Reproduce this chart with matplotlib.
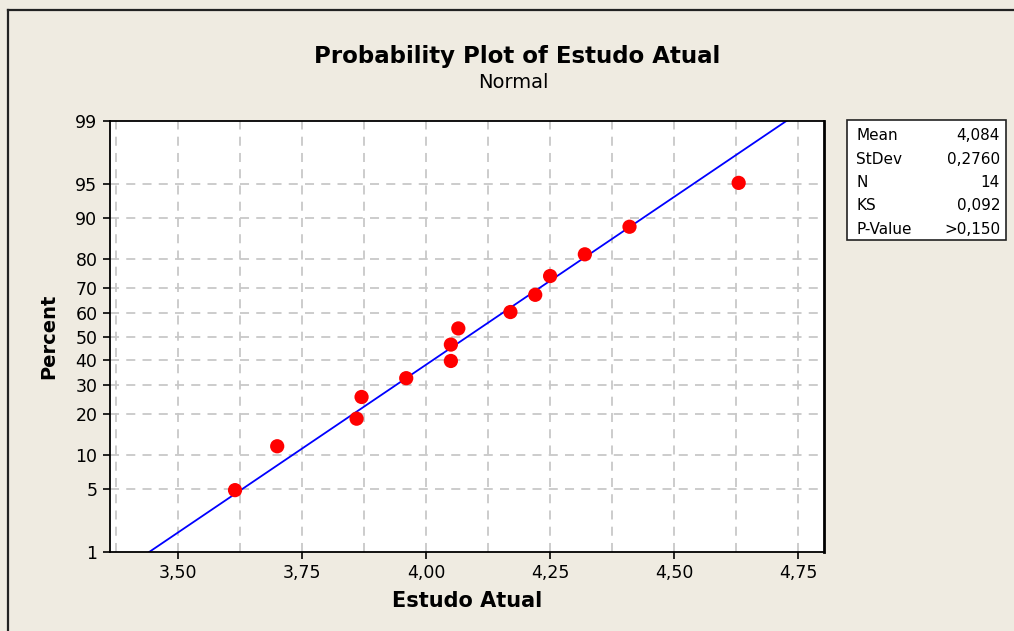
import numpy as np
import matplotlib
matplotlib.use("Agg")
import matplotlib.pyplot as plt
from matplotlib.lines import Line2D
from matplotlib.patches import Rectangle
from statistics import NormalDist

# sample values (sorted)
values = [3.615, 3.70, 3.86, 3.87, 3.96, 4.05, 4.05, 4.065, 4.17, 4.22, 4.25, 4.32, 4.41, 4.63]
mean = 4.084
stdev = 0.2760

y_ticks = [1, 5, 10, 20, 30, 40, 50, 60, 70, 80, 90, 95, 99]
x_ticks = [3.50, 3.75, 4.00, 4.25, 4.50, 4.75]
x_grid = [3.375, 3.5, 3.625, 3.75, 3.875, 4.0, 4.125, 4.25, 4.375, 4.5, 4.625, 4.75]

stat_names = ["Mean", "StDev", "N", "KS", "P-Value"]
stat_values = ["4,084", "0,2760", "14", "0,092", ">0,150"]

nd = NormalDist()
_ppf = np.vectorize(lambda p: nd.inv_cdf(p), otypes=[float])
_cdf = np.vectorize(lambda z: nd.cdf(z), otypes=[float])


def forward(p):
    p = np.clip(np.asarray(p, dtype=float), 1e-6, 100 - 1e-6)
    return _ppf(p / 100.0)


def inverse(z):
    return _cdf(np.asarray(z, dtype=float)) * 100.0


n = len(values)
percents = [(i + 1 - 0.3) / (n + 0.4) * 100 for i in range(n)]

bg = "#EFEBE1"
plt.rcParams['font.family'] = ['DejaVu Sans']

fig = plt.figure(figsize=(10.14, 6.31), dpi=100, facecolor=bg)
W, H = 1014, 631
ax = fig.add_axes([110 / W, 1 - 552 / H, 714 / W, 431 / H])
ax.set_facecolor("white")
ax.set_yscale("function", functions=(forward, inverse))
ax.set_ylim(1, 99)
ax.set_xlim(3.363, 4.802)

# grid
for gx in x_grid:
    ax.axvline(gx, color="#C8C8C8", lw=1.3, ls=(0, (5, 4)), zorder=0)
for gy in y_ticks[1:-1]:
    ax.axhline(gy, color="#C8C8C8", lw=1.3, ls=(0, (5, 4)), zorder=0)

# fitted line
pp = np.linspace(0.5, 99.5, 400)
zz = forward(pp)
ax.plot(mean + stdev * zz, pp, color="#0000FF", lw=1.3, zorder=2)

ax.scatter(values, percents, s=105, color="#FF0000", edgecolors="none", zorder=3)

ax.set_yticks(y_ticks)
ax.set_yticklabels([str(t) for t in y_ticks])
ax.yaxis.set_minor_locator(matplotlib.ticker.NullLocator())
ax.set_xticks(x_ticks)
ax.set_xticklabels([f"{t:.2f}".replace(".", ",") for t in x_ticks])
ax.tick_params(axis="both", direction="out", length=5, width=1.2, labelsize=12.5, pad=4)

for s in ax.spines.values():
    s.set_linewidth(1.3)
ax.spines["right"].set_linewidth(2)

ax.set_xlabel("Estudo Atual", fontsize=15, fontweight="bold", labelpad=6)
ax.set_ylabel("Percent", fontsize=14, fontweight="bold", labelpad=12)

fig.text(517 / W, 1 - 56 / H, "Probability Plot of Estudo Atual", ha="center", va="center",
         fontsize=16.5, fontweight="bold")
fig.text(513 / W, 1 - 82 / H, "Normal", ha="center", va="center", fontsize=14)

# outer frame (top and left only)
fig.add_artist(Line2D([8 / W, 8 / W], [0, 1 - 10 / H], color="#222222", lw=1.6))
fig.add_artist(Line2D([8 / W, 1], [1 - 10 / H, 1 - 10 / H], color="#222222", lw=1.6))

# stats box
bx0, by0, bx1, by1 = 847, 120, 1006, 240
fig.add_artist(Rectangle((bx0 / W, 1 - by1 / H), (bx1 - bx0) / W, (by1 - by0) / H,
                         facecolor="white", edgecolor="#222222", lw=1.2))
for k, (nm, val) in enumerate(zip(stat_names, stat_values)):
    yy = 1 - (136 + k * 23.3) / H
    fig.text(856 / W, yy, nm, ha="left", va="center", fontsize=11)
    fig.text(1000 / W, yy, val, ha="right", va="center", fontsize=11)

fig.savefig("out.png", dpi=100, facecolor=bg)
